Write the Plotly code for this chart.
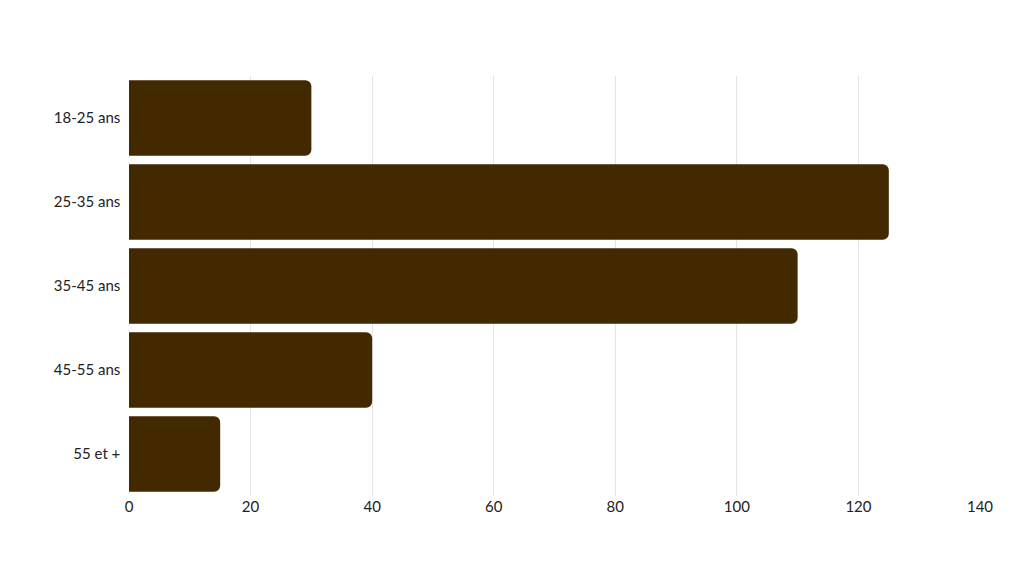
import plotly.graph_objects as go

categories = ["18-25 ans", "25-35 ans", "35-45 ans", "45-55 ans", "55 et +"]
values = [30, 125, 110, 40, 15]
ticks = [0, 20, 40, 60, 80, 100, 120, 140]

fig = go.Figure(go.Bar(y=categories, x=values, orientation="h",
                       marker=dict(color="#432900", line=dict(width=0))))
fig.update_layout(
    width=1024, height=576, paper_bgcolor="white", plot_bgcolor="white",
    margin=dict(l=121, r=52, t=68, b=88),
    font=dict(family="Lato", size=15, color="#222"),
    bargap=0.1, barcornerradius=6, showlegend=False,
    xaxis=dict(range=[0, 140], tickvals=ticks, showgrid=True, gridcolor="#e3e3e3",
               zeroline=False, ticks="", showline=False),
    yaxis=dict(categoryorder="array", categoryarray=categories, autorange="reversed",
               showgrid=False, ticks="", ticksuffix="  ", showline=False),
)
fig.write_html("out.html")
